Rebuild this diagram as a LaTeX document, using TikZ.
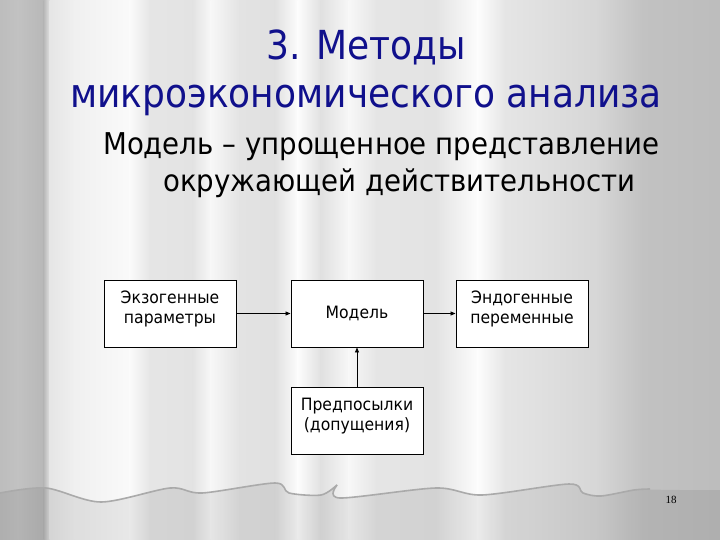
\documentclass[tikz,border=0pt]{standalone}
\usepackage{fontspec}
\setmainfont{DejaVu Sans}
\newfontfamily\tfont{DejaVu Sans}[FakeStretch=0.92]
\newfontfamily\hfont{DejaVu Sans}[FakeStretch=0.9]
\newfontfamily\numfont{Liberation Serif}
\usetikzlibrary{arrows.meta}
\definecolor{titleblue}{RGB}{16,16,140}
\definecolor{hemgray}{RGB}{170,170,170}
\begin{document}
\begin{tikzpicture}[x=1pt,y=-1pt,
  boxnode/.style={draw=black, line width=0.9pt, fill=white, minimum width=132pt,
    minimum height=67pt, inner sep=0pt, font=\tfont\fontsize{17}{20}\selectfont},
  conn/.style={line width=0.8pt, -{Triangle[length=5pt,width=4pt]}},
  titletext/.style={inner sep=0pt, text=titleblue, font=\hfont\fontsize{40}{48}\selectfont},
  subtext/.style={inner sep=0pt, text=black, font=\tfont\fontsize{30}{37}\selectfont}
]
\useasboundingbox (0,0) rectangle (720,540);
% curtain background
\foreach \xa/\ga/\xb/\gb in {0/74/18/76, 18/76/44/72, 44/72/50/90, 50/90/75/94, 75/94/130/98,
  130/98/150/90, 150/90/193/89, 193/89/211/97, 211/97/240/89, 240/89/275/88, 275/88/298/99,
  298/99/321/88, 321/88/349/97, 349/97/376/90, 376/90/436/89, 436/89/478/99, 478/99/505/90,
  505/90/597/84, 597/84/643/76, 643/76/720/74}
  \shade[left color=white!\ga!black, right color=white!\gb!black] (\xa-0.3,0) rectangle (\xb+0.3,540);
% floor below the hem
\fill[black, opacity=0.07] plot[smooth, tension=0.5] coordinates {(0,493) (46,488) (101,502) (170,488)
  (202,493) (275,483) (289,493) (321,495) (337,485) (340,498) (436,488) (482,495) (569,484)
  (583,493) (601,496) (634,490) (680,490) (720,490)} -- (720,540) -- (0,540) -- cycle;
\draw[hemgray, line width=1.6pt] plot[smooth, tension=0.5] coordinates {(0,493) (46,488) (101,502) (170,488)
  (202,493) (275,483) (289,493) (321,495) (337,485)};
\draw[hemgray, line width=1.6pt] plot[smooth, tension=0.5] coordinates {(337,485) (340,498) (436,488)
  (482,495) (569,484) (583,493) (601,496) (634,490) (650,489)};
% titles
\node[titletext, anchor=base] (title1) at (366,60) {3. Методы};
\node[titletext, anchor=base] (title2) at (366,108) {микроэкономического анализа};
\node[subtext, anchor=base west] (sub1) at (103,155) {Модель – упрощенное представление};
\node[subtext, anchor=base west] (sub2) at (163,192) {окружающей действительности};
% boxes
\node[boxnode] (exo) at (170,313.5) {\parbox[c][67pt][t]{130pt}{\vspace*{10.5pt}\centering Экзогенные\\параметры}};
\node[boxnode] (model) at (357,313.5) {Модель};
\node[boxnode] (endo) at (522,313.5) {\parbox[c][67pt][t]{130pt}{\vspace*{10.5pt}\centering Эндогенные\\переменные}};
\node[boxnode] (prem) at (357,421) {\parbox[c][67pt][t]{130pt}{\vspace*{10.5pt}\centering Предпосылки\\(допущения)}};
% connectors
\draw[conn] (exo) -- (model);
\draw[conn] (model) -- (endo);
\draw[conn] (prem) -- (model);
% page number
\node[inner sep=0pt, font=\numfont\fontsize{11}{13}\selectfont] (pnum) at (671,500) {18};
\end{tikzpicture}
\end{document}
